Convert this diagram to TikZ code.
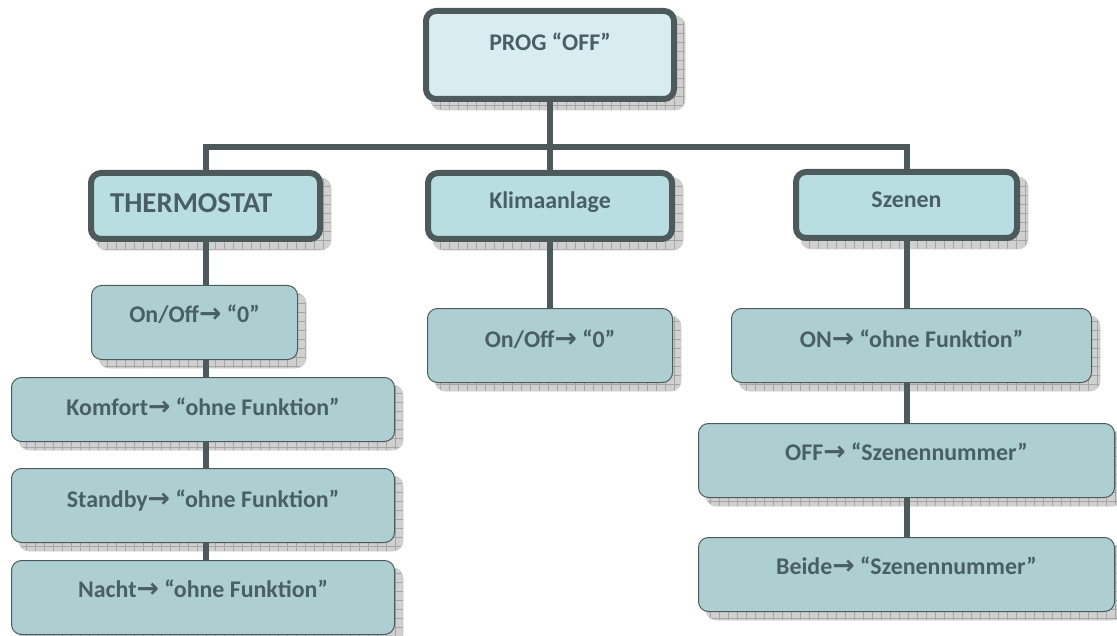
\documentclass[tikz,border=0pt]{standalone}
\usepackage{fontspec}
\setmainfont{Carlito}
\newfontfamily\arrowfont{DejaVu Sans}
\usetikzlibrary{backgrounds,patterns.meta}

\newlength\pxu
\setlength\pxu{0.025cm}
\definecolor{edgecol}{RGB}{76,90,92}
\definecolor{txtcol}{RGB}{74,94,102}
\definecolor{topfill}{RGB}{217,237,240}
\definecolor{midfill}{RGB}{184,222,226}
\definecolor{leaffill}{RGB}{174,207,210}
\definecolor{shadowfill}{RGB}{208,208,208}
\definecolor{shadowgrid}{RGB}{165,165,165}
\newcommand{\toarrow}{{\arrowfont\bfseries\fontsize{19}{20}\selectfont →}}

\tikzset{
  box/.style={draw=edgecol, rounded corners=10\pxu, text=txtcol,
    font=\fontsize{17}{20}\selectfont\bfseries, inner sep=0pt,
    text height=16\pxu, text depth=16\pxu},
  headbox/.style={box, line width=6\pxu, fill=midfill, minimum height=66\pxu,
    text depth=10\pxu},
  leafbox/.style={box, line width=1\pxu, fill=leaffill, minimum height=74\pxu},
  conn/.style={draw=edgecol, line width=6\pxu},
  shadowbox/.style={rounded corners=10\pxu, draw=gray!40, line width=0.5pt,
    preaction={fill=shadowfill},
    pattern={Hatch[distance=6.4pt, angle=0, line width=0.4pt]},
    pattern color=shadowgrid},
}

\begin{document}
\begin{tikzpicture}[x=0.025cm, y=-0.025cm]
\useasboundingbox (0,0) rectangle (1117,636);

% top level
\node[headbox, fill=topfill, minimum width=248\pxu, minimum height=88\pxu,
  text height=16\pxu, text depth=25\pxu] (prog) at (550,55) {PROG “OFF”};

% second level
\node[headbox, minimum width=229\pxu, font=\fontsize{20.5}{24}\selectfont\bfseries,
  text height=20\pxu, text depth=7\pxu, text width=191\pxu, inner xsep=19\pxu,
  align=left] (thermo) at (205.5,206) {THERMOSTAT};
\node[headbox, minimum width=244\pxu] (klima) at (550,206) {Klimaanlage};
\node[headbox, minimum width=221\pxu] (szenen) at (906.5,205) {Szenen};

% thermostat
\node[leafbox, minimum width=206\pxu] (thoff) at (194.5,322.5) {On/Off\toarrow{} “0”};
\node[leafbox, minimum width=383\pxu, minimum height=64\pxu, text depth=4\pxu] (komfort) at (203,409.5) {Komfort\toarrow{} “ohne Funktion”};
\node[leafbox, minimum width=383\pxu, text depth=12\pxu] (standby) at (203,505.5) {Standby\toarrow{} “ohne Funktion”};
\node[leafbox, minimum width=383\pxu] (nacht) at (203,597.5) {Nacht\toarrow{} “ohne Funktion”};

% klimaanlage
\node[leafbox, minimum width=245\pxu, text depth=12\pxu] (klioff) at (550,345.5) {On/Off\toarrow{} “0”};

% szenen
\node[leafbox, minimum width=360\pxu, text depth=12\pxu] (szon) at (911.5,345.5) {ON\toarrow{} “ohne Funktion”};
\node[leafbox, minimum width=416\pxu] (szoff) at (906.5,460.5) {OFF\toarrow{} “Szenennummer”};
\node[leafbox, minimum width=416\pxu] (szbeide) at (906.5,574.5) {Beide\toarrow{} “Szenennummer”};

\begin{scope}[on background layer]
  \foreach \n in {prog,thermo,klima,szenen,thoff,komfort,standby,nacht,klioff,szon,szoff,szbeide}
    \path[shadowbox] ([shift={(8,8)}]\n.north west) rectangle ([shift={(8,8)}]\n.south east);
  \coordinate (bar) at (550,147);
  \draw[conn] (thermo) |- (bar) -| (szenen);
  \draw[conn] (prog) -- (klima) -- (klioff);
  \draw[conn] (thermo) -- (thermo |- nacht);
  \draw[conn] (szenen) -- (szenen |- szbeide);
\end{scope}
\end{tikzpicture}
\end{document}
